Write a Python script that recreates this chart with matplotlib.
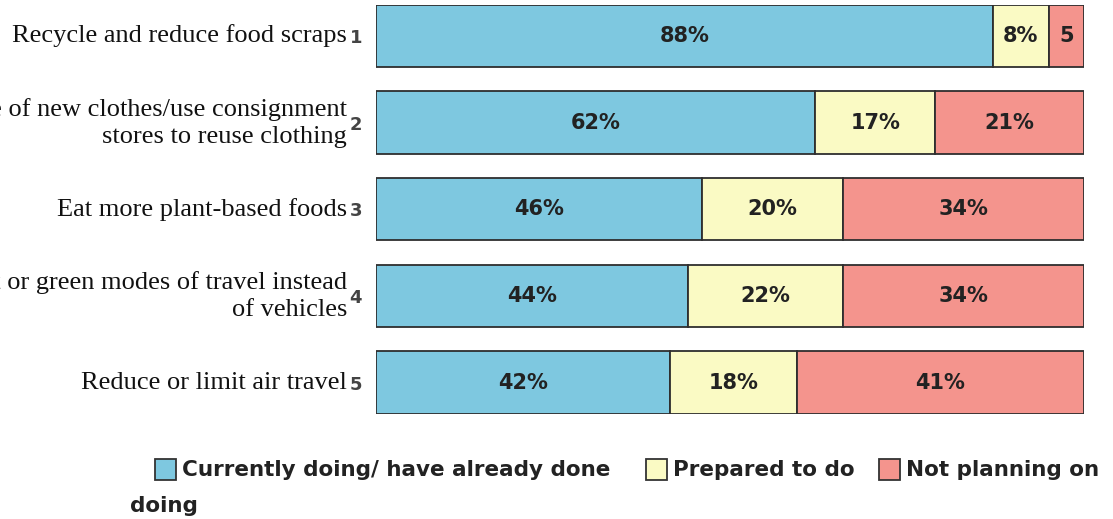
import matplotlib
matplotlib.use("Agg")
import matplotlib.pyplot as plt
from matplotlib.patches import Rectangle
from matplotlib.transforms import blended_transform_factory
import numpy as np

# Survey statements, one per bar (top to bottom)
statements = [
    "Recycle and reduce food scraps",
    "Reduce purchase of new clothes/use consignment\nstores to reuse clothing",
    "Eat more plant-based foods",
    "Use public transit or green modes of travel instead\nof vehicles",
    "Reduce or limit air travel",
]
row_numbers = ["1", "2", "3", "4", "5"]

series_names = ["Currently doing/ have already done", "Prepared to do", "Not planning on"]
series_wrap = "doing"

currently_doing = [88, 62, 46, 44, 42]
prepared_to_do = [8, 17, 20, 22, 18]
not_planning = [5, 21, 34, 34, 41]

colors = ["#7ec8e0", "#fafac4", "#f4948d"]
edge = "#2e2e2e"

W, H = 1113, 519
fig = plt.figure(figsize=(W / 100, H / 100), dpi=100)
ax = fig.add_axes([376 / W, 1 - 413.7 / H, (1084 - 376) / W, (413.7 - 4.8) / H])

series = [np.array(currently_doing, float), np.array(prepared_to_do, float), np.array(not_planning, float)]
totals = sum(series)
y = np.arange(len(statements))

left = np.zeros(len(statements))
for vals, color in zip(series, colors):
    share = vals / totals
    ax.barh(y, share, left=left, height=0.72, color=color,
            edgecolor=edge, linewidth=1.3)
    for yi, l, s, v in zip(y, left, share, vals):
        txt = f"{v:.0f}%" if s >= 0.06 else f"{v:.0f}"
        ax.text(l + s / 2, yi, txt, ha="center", va="center",
                fontsize=15, fontweight="bold", color="#222222",
                family="DejaVu Sans")
    left = left + share

ax.set_xlim(0, 1)
ax.set_ylim(len(statements) - 1 + 0.36, -0.36)
for sp in ax.spines.values():
    sp.set_visible(False)
ax.set_xticks([])
ax.set_yticks(y)
ax.set_yticklabels(row_numbers, fontsize=13, color="#444444",
                   fontweight="bold", family="DejaVu Sans")
ax.tick_params(axis="y", length=0, pad=10)

# Statement labels sit just left of the row numbers
tr = blended_transform_factory(fig.transFigure, ax.transData)
for yi, s in zip(y, statements):
    ax.text(347 / W, yi, s, transform=tr, ha="right", va="center",
            multialignment="right", family="Liberation Serif",
            fontsize=19, color="#111111", linespacing=1.3, clip_on=False)

# Legend drawn along the bottom
def legend_item(x_sq, x_txt, color, label, yc=469.5, size=21):
    fig.add_artist(Rectangle((x_sq / W, 1 - (yc + size / 2) / H), size / W, size / H,
                             transform=fig.transFigure, facecolor=color,
                             edgecolor="#333333", linewidth=1.3))
    fig.text(x_txt / W, 1 - yc / H, label, ha="left", va="center",
             fontsize=15.5, fontweight="bold", color="#222222",
             family="DejaVu Sans")

legend_item(155, 182, colors[0], series_names[0])
legend_item(646, 673, colors[1], series_names[1])
legend_item(879, 906, colors[2], series_names[2])
fig.text(130 / W, 1 - 506 / H, series_wrap, ha="left", va="center",
         fontsize=15.5, fontweight="bold", color="#222222", family="DejaVu Sans")

fig.savefig("out.png", dpi=100)
